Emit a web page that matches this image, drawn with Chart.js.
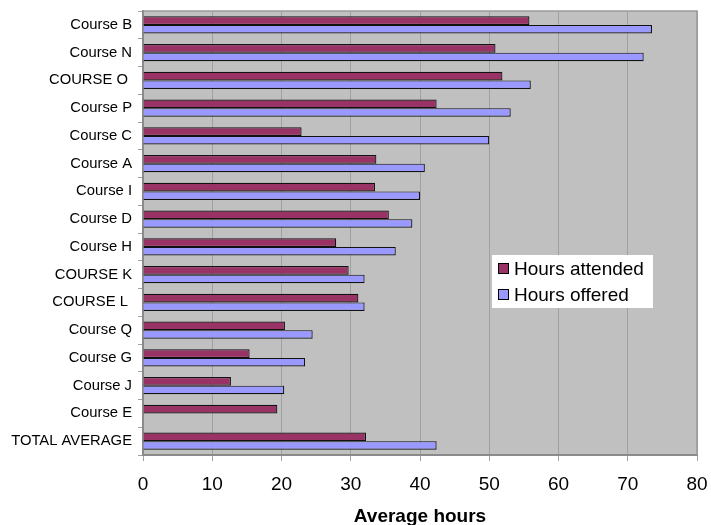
<!DOCTYPE html>
<html>
<head>
<meta charset="utf-8">
<script src="https://cdn.jsdelivr.net/npm/chart.js@4"></script>
<style>
    html, body { margin: 0; padding: 0; background: #fff; overflow: hidden; }
    #wrap { width: 711px; height: 528px; }
</style>
</head>
<body>
<div id="wrap"><canvas id="chart" width="711" height="528"></canvas></div>
<script>
const courses = ["Course B", "Course N", "COURSE O ", "Course P", "Course C", "Course A",
    "Course I", "Course D", "Course H", "COURSE K", "COURSE L ", "Course Q",
    "Course G", "Course J", "Course E", "TOTAL AVERAGE"];
const hoursAttended = [55.8, 50.9, 51.9, 42.4, 22.9, 33.7, 33.5, 35.5, 27.9, 29.7, 31.1, 20.5, 15.4, 12.7, 19.4, 32.2];
const hoursOffered = [73.5, 72.3, 56.0, 53.1, 50.0, 40.7, 40.0, 38.9, 36.5, 32.0, 32.0, 24.5, 23.4, 20.4, null, 42.4];
const xTicks = [0, 10, 20, 30, 40, 50, 60, 70, 80];

const FONT = "'Liberation Sans', Arial, sans-serif";

/* ---------- grey plot area ---------- */
const plotBackground = {
    id: "plotBackground",
    beforeDraw(chart) {
        const { ctx, chartArea: a } = chart;
        ctx.save();
        ctx.fillStyle = "#c0c0c0";
        ctx.fillRect(a.left, a.top, a.right - a.left, a.bottom - a.top);
        ctx.restore();
    },
    afterDraw(chart) {
        const { ctx, chartArea: a } = chart;
        ctx.save();
        ctx.strokeStyle = "#9a9a9a";
        ctx.lineWidth = 1.5;
        ctx.beginPath();
        ctx.moveTo(a.left, a.top);
        ctx.lineTo(a.right, a.top);
        ctx.lineTo(a.right, a.bottom);
        ctx.stroke();
        ctx.restore();
    }
};

/* ---------- legend box inside the plot ---------- */
const boxLegend = {
    id: "boxLegend",
    afterDraw(chart) {
        const ctx = chart.ctx;
        const x = 492, y = 255, w = 161, h = 53;
        ctx.save();
        ctx.fillStyle = "#ffffff";
        ctx.fillRect(x, y, w, h);
        ctx.font = "19px " + FONT;
        ctx.textBaseline = "middle";
        chart.data.datasets.forEach((ds, i) => {
            const cy = y + 14 + i * 26;
            ctx.fillStyle = ds.backgroundColor;
            ctx.fillRect(x + 6, cy - 6, 11, 11);
            ctx.strokeStyle = "#000";
            ctx.lineWidth = 1;
            ctx.strokeRect(x + 6.5, cy - 5.5, 10, 10);
            ctx.fillStyle = "#000";
            ctx.fillText(ds.label, x + 22, cy + 1);
        });
        ctx.restore();
    }
};

new Chart(document.getElementById("chart"), {
    type: "bar",
    data: {
        labels: courses,
        datasets: [{
            label: "Hours attended",
            data: hoursAttended,
            backgroundColor: "#993366",
            borderColor: "#111",
            borderWidth: 1.2,
            categoryPercentage: 0.62,
            barPercentage: 1.0
        }, {
            label: "Hours offered",
            data: hoursOffered,
            backgroundColor: "#9999ff",
            borderColor: "#111",
            borderWidth: 1.2,
            categoryPercentage: 0.62,
            barPercentage: 1.0
        }]
    },
    options: {
        indexAxis: "y",
        responsive: false,
        animation: false,
        layout: { padding: { top: 11, right: 14, left: 0, bottom: 0 } },
        plugins: {
            legend: { display: false },
            tooltip: { enabled: false }
        },
        scales: {
            x: {
                min: 0,
                max: 80,
                afterBuildTicks: s => { s.ticks = xTicks.map(v => ({ value: v })); },
                ticks: { color: "#000", font: { family: FONT, size: 19 }, padding: 12 },
                grid: { color: "#a0a0a0", tickLength: 6 },
                border: { color: "#8a8a8a", width: 2 },
                title: {
                    display: true,
                    text: "Average hours",
                    color: "#000",
                    font: { family: FONT, size: 19, weight: "bold" },
                    padding: 0
                },
                afterFit: s => { s.height = 73; s.paddingLeft = 0; s.paddingRight = 0; }
            },
            y: {
                ticks: { color: "#000", font: { family: FONT, size: 14.8 }, padding: 6, autoSkip: false },
                grid: { drawOnChartArea: false, tickLength: 5, color: "#a0a0a0", offset: true },
                border: { color: "#8a8a8a", width: 2 },
                afterFit: s => { s.width = 143; s.paddingTop = 0; s.paddingBottom = 0; }
            }
        }
    },
    plugins: [plotBackground, boxLegend]
});
</script>
</body>
</html>
